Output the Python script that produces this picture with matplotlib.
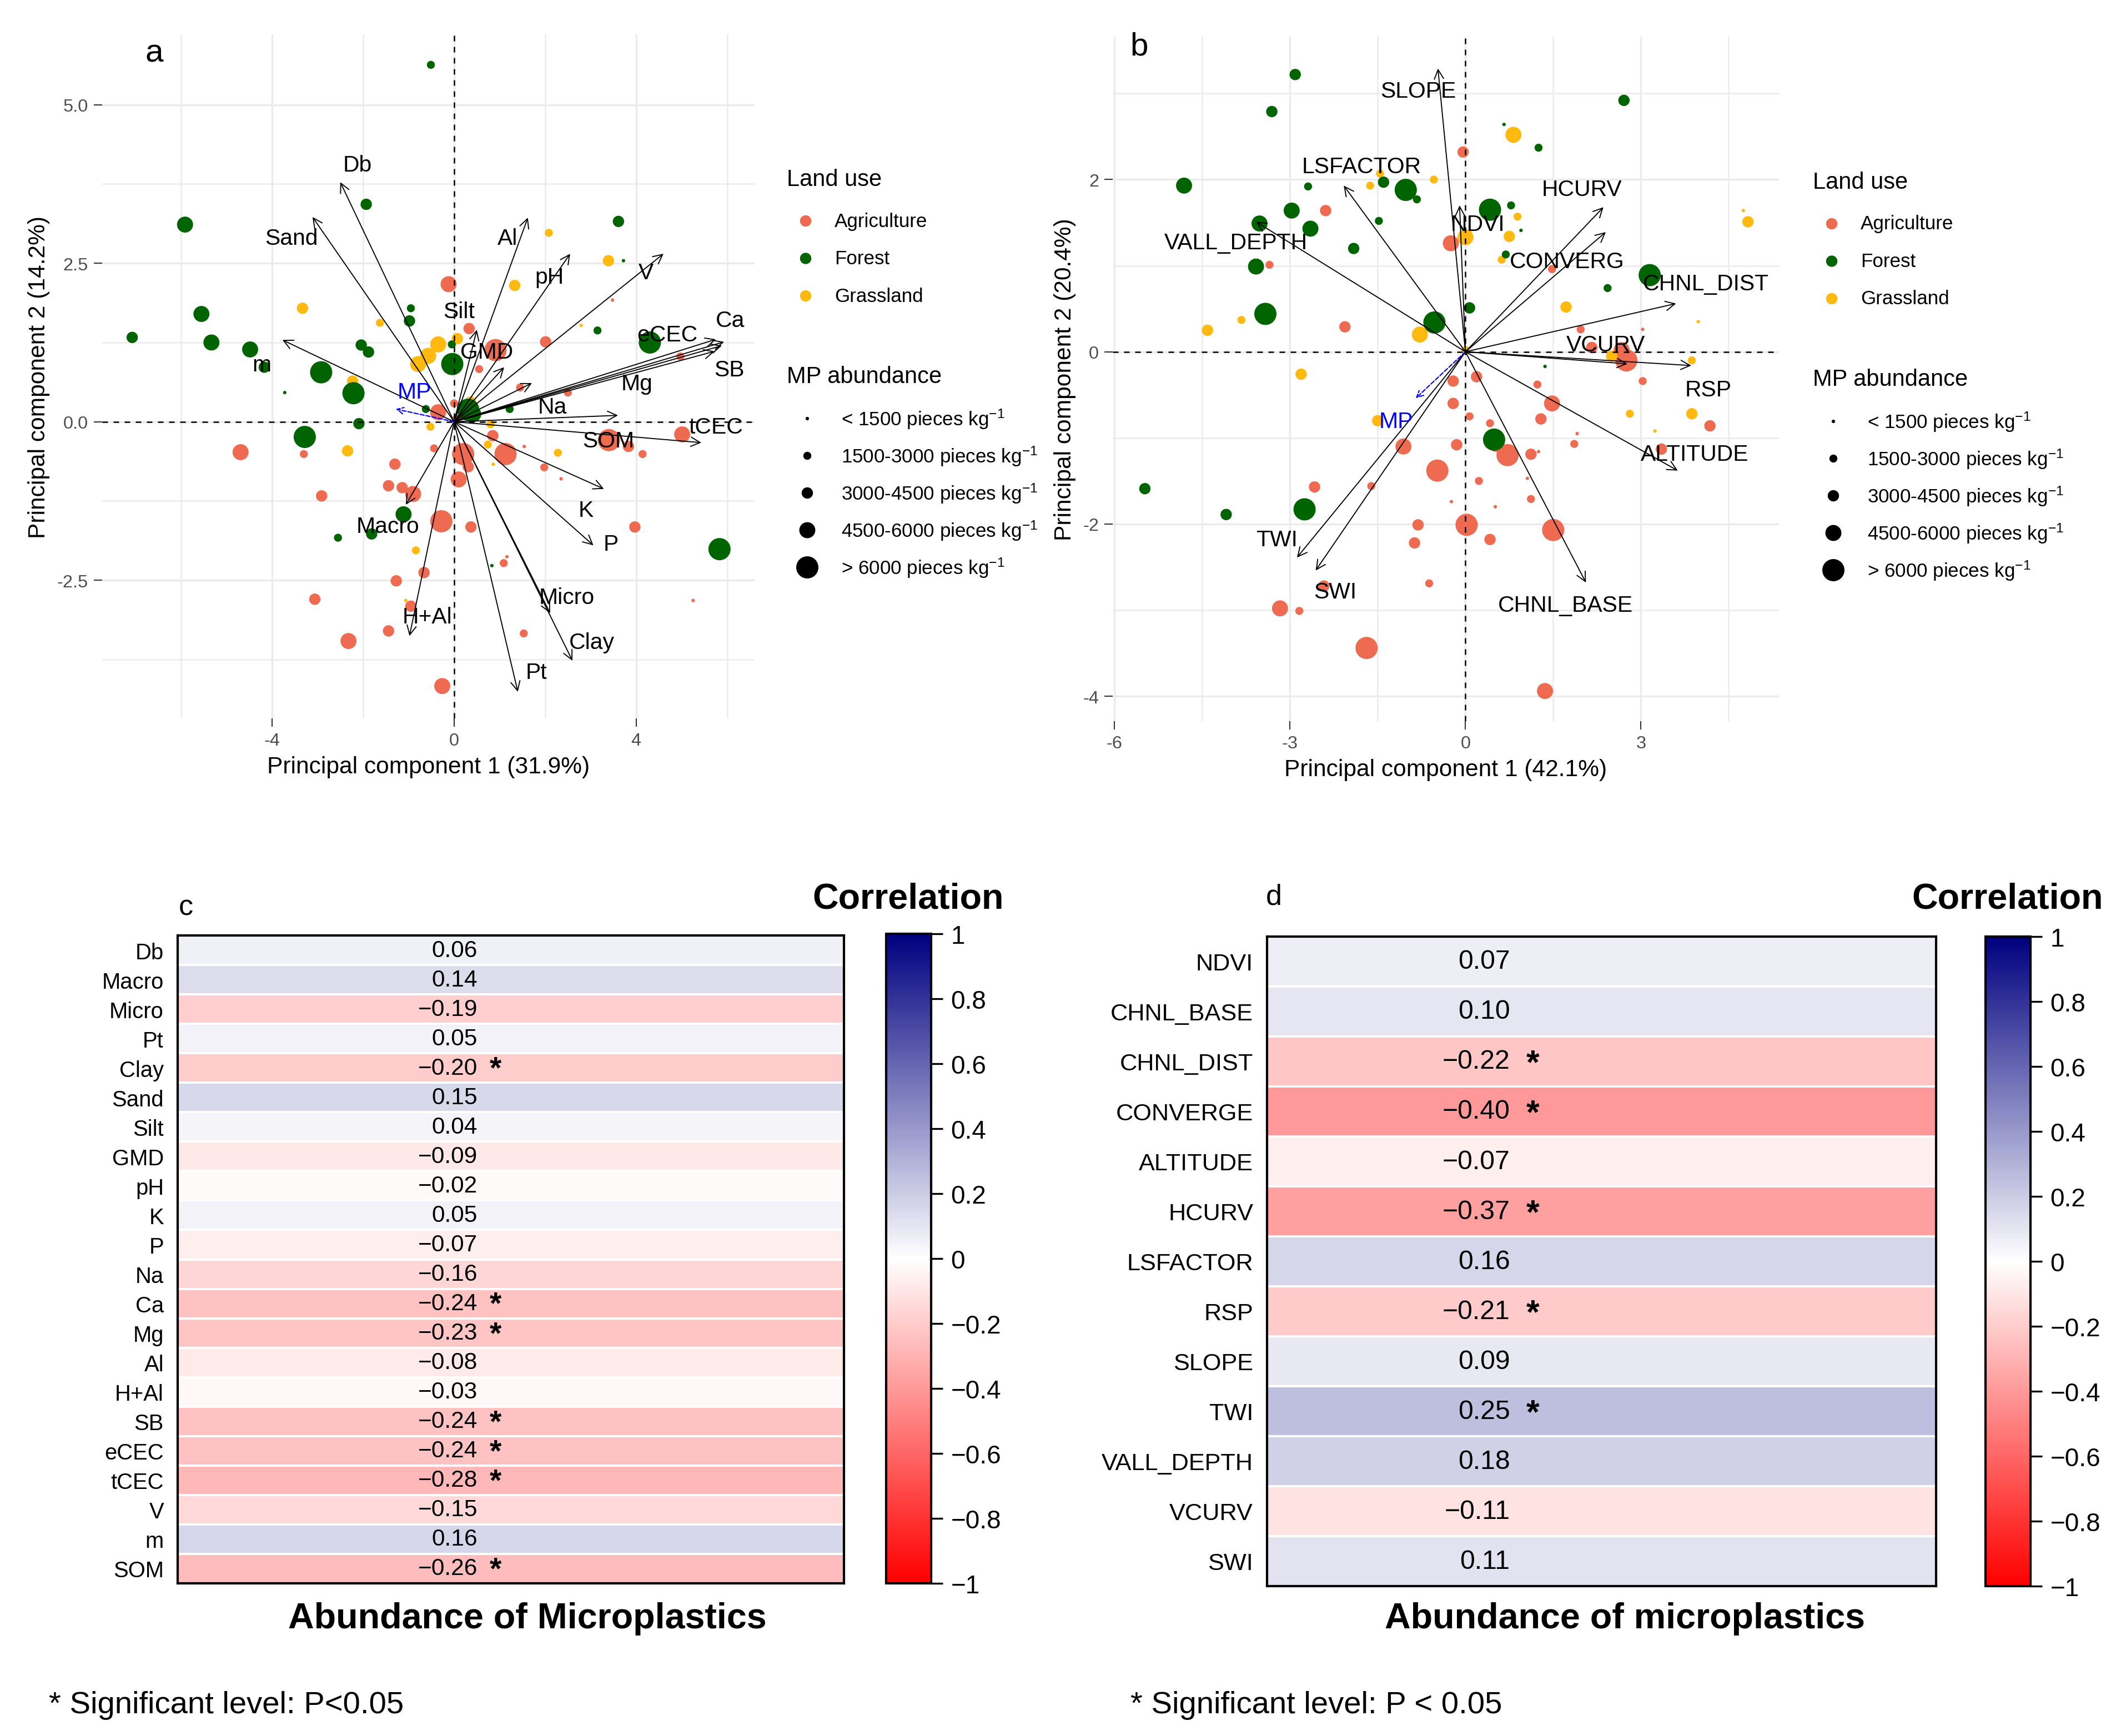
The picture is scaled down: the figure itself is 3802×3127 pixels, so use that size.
import numpy as np
import matplotlib
matplotlib.use('Agg')
import matplotlib.pyplot as plt
from matplotlib.colors import LinearSegmentedColormap, Normalize
import matplotlib.colorbar as mcolorbar

plt.rcParams['font.family'] = ['Liberation Sans', 'DejaVu Sans']
plt.rcParams['axes.unicode_minus'] = False
plt.rcParams['mathtext.default'] = 'regular'

W, H, DPI = 3802, 3128, 300

# ---- panel a: PCA scores (soil) ----
# land use: A = Agriculture, F = Forest, G = Grassland ; mp = MP abundance class 1..5
a_x = [-0.51, -5.91, -1.93, 3.61, -7.07, -5.55, -5.33, -4.48, -4.17, -2.92, -2.21, -3.28, -2.09, -2.04,
       -1.88, -0.95, -0.98, -0.05, -0.04, 0.31, 0.42, -0.62, 1.22, 3.15, 4.30, 5.83, -1.11, -1.81, -2.55,
       -3.72, 3.72, 0.83,
       2.08, 3.39, 1.33, -3.33, -1.63, -0.35, -0.57, -0.79, 0.07, -2.23, -2.34, -0.52, 0.80, 0.74, 2.28,
       -0.84, 2.79, -1.06, 0.86, 0.36,
       -0.12, 0.33, 0.91, 0.55, 2.01, 1.45, 2.50, 4.97, 3.48, -4.69, -3.30, -0.35, 0.00, 0.20, 0.31, 1.13,
       0.85, -1.30, -0.44, 0.10, -1.44, -1.14, -0.90, -0.28, 0.37, -2.91, -0.66, -1.27, -3.06, -0.95, -1.44,
       -2.32, -0.26, 1.53, 1.09, 1.98, 3.40, 3.83, 4.14, 5.01, 3.97, 2.35, 1.54, 1.16, 5.25, 0.05]
a_y = [5.63, 3.11, 3.43, 3.16, 1.33, 1.70, 1.25, 1.14, 0.86, 0.78, 0.45, -0.24, -0.03, 1.21,
       1.10, 1.79, 1.59, 1.22, 0.91, 0.19, 0.12, 0.20, 0.20, 1.44, 1.25, -2.01, -1.46, -1.77, -1.83,
       0.46, 2.54, -2.27,
       2.98, 2.54, 2.15, 1.79, 1.56, 1.22, 1.04, 0.91, 1.31, 0.64, -0.46, -0.08, -0.04, -0.36, -0.49,
       -2.03, 1.52, -2.82, -0.67, 0.31,
       2.17, 1.47, 1.13, 0.83, 1.26, 0.54, 0.46, 1.03, 1.92, -0.48, -0.51, 0.15, 0.29, -0.51, -0.71, -0.51,
       -0.22, -0.67, -0.42, -0.91, -1.01, -1.04, -1.14, -1.57, -1.66, -1.17, -2.38, -2.51, -2.80, -2.91, -3.30,
       -3.46, -4.17, -3.34, -2.23, -0.72, -0.29, -0.39, -0.51, -0.20, -1.66, -0.90, -0.39, -2.13, -2.82, 0.05]
a_use = ['F'] * 32 + ['G'] * 20 + ['A'] * 46
a_mp = [2, 4, 3, 3, 3, 4, 4, 4, 3, 5, 5, 5, 3, 3, 3, 2, 3, 2, 5, 5, 4, 2, 2, 2, 5, 5, 4, 3, 2, 1, 1, 1,
        2, 3, 3, 3, 2, 4, 4, 4, 3, 3, 3, 2, 2, 2, 2, 2, 1, 1, 1, 3,
        4, 3, 5, 2, 3, 2, 2, 2, 1, 4, 2, 4, 2, 5, 3, 5, 3, 3, 2, 4, 3, 3, 4, 5, 3, 3, 3, 3, 3, 3, 3,
        4, 4, 2, 2, 2, 5, 3, 2, 4, 3, 1, 1, 1, 1, 2]

a_vars = ['Db', 'Sand', 'm', 'Al', 'pH', 'V', 'Ca', 'SB', 'eCEC', 'Mg', 'tCEC', 'Na', 'SOM', 'K', 'P',
          'Micro', 'Clay', 'Pt', 'H+Al', 'Macro', 'GMD', 'Silt']
a_vx = [-2.50, -3.11, -3.77, 1.62, 2.55, 4.60, 5.93, 5.88, 5.75, 5.72, 5.43, 3.60, 1.71, 3.29, 3.06,
        2.11, 2.60, 1.40, -0.98, -1.06, 1.10, 0.50]
a_vy = [3.78, 3.23, 1.29, 3.22, 2.65, 2.65, 1.26, 1.20, 1.30, 1.11, -0.33, 0.10, 0.61, -1.06, -1.95,
        -3.02, -3.77, -4.26, -3.38, -1.31, 0.86, 1.45]
a_lx = [-2.12, -3.57, -4.23, 1.18, 2.09, 4.21, 6.07, 6.04, 4.68, 4.02, 5.75, 2.16, 3.39, 2.90, 3.45,
        2.47, 3.02, 1.81, -0.59, -1.46, 0.72, 0.11]
a_ly = [4.05, 2.90, 0.90, 2.90, 2.28, 2.35, 1.60, 0.82, 1.37, 0.60, -0.08, 0.23, -0.30, -1.40, -1.93,
        -2.77, -3.48, -3.95, -3.08, -1.65, 1.10, 1.74]
a_mp_vec = (-1.28, 0.20)
a_mp_lab = (-0.87, 0.47)

# ---- panel b: PCA scores (terrain) ----
b_x = [-2.91, -3.31, 2.71, 1.25, -4.81, -2.69, -2.97, -3.52, -2.65, -3.58, -3.42, -1.91, -1.48, -1.40,
       -1.02, -0.83, 0.42, 0.78, 0.69, 0.07, -0.53, 3.15, 2.43, 0.49, -2.75, -4.09, -5.48, 0.66, 0.95, 1.36,
       0.82, -0.54, -1.63, -1.46, 0.89, 0.75, 0.00, 0.62, 1.72, -0.78, 0.00, -4.41, -3.83, -2.81, -1.50,
       2.50, 2.81, 3.87, 3.87, 4.83, 4.75, 3.98, 3.24,
       -0.04, -2.39, -0.25, -3.35, -2.06, 1.48, 1.97, 2.16, 2.75, 2.67, 3.03, 4.18, 3.35, 1.86, 1.48, 1.29,
       1.23, 1.12, 1.12, 0.53, 0.72, 0.42, 0.19, -0.21, -0.21, 0.07, -0.15, -1.06, -0.48, 0.23, -2.58, -1.61,
       1.50, 0.02, 0.42, -0.81, -0.87, -0.62, -2.42, -3.17, -2.84, -1.69, 1.36, 3.03, 1.91, 1.25, 1.06,
       -0.24, 0.51]
b_y = [3.22, 2.79, 2.92, 2.37, 1.93, 1.92, 1.64, 1.49, 1.43, 0.99, 0.44, 1.20, 1.52, 1.97,
       1.88, 1.77, 1.65, 1.70, 1.13, 0.51, 0.34, 0.89, 0.74, -1.02, -1.83, -1.89, -1.59, 2.64, 1.41, -0.17,
       2.52, 2.00, 1.93, 2.07, 1.57, 1.34, 1.33, 1.07, 0.52, 0.20, 0.02, 0.25, 0.37, -0.26, -0.80,
       -0.05, -0.72, -0.72, -0.10, 1.51, 1.64, 0.35, -0.92,
       2.32, 1.64, 1.26, 1.01, 0.29, 0.96, 0.26, 0.05, -0.10, 0.02, -0.34, -0.86, -1.13, -1.07, -0.60, -0.78,
       -0.38, -1.19, -1.71, -1.07, -1.20, -0.83, -0.29, -0.34, -0.60, -0.75, -1.08, -1.10, -1.38, -1.50, -1.57,
       -1.56, -2.07, -2.01, -2.18, -2.01, -2.22, -2.69, -2.72, -2.98, -3.01, -3.44, -3.94, 0.26, -0.95, -1.16,
       -1.47, -1.74, -1.80]
b_use = ['F'] * 30 + ['G'] * 23 + ['A'] * 49
b_mp = [3, 3, 3, 2, 4, 2, 4, 4, 4, 4, 5, 3, 2, 3, 5, 2, 5, 2, 2, 3, 5, 5, 2, 5, 5, 3, 3, 1, 1, 1,
        4, 2, 2, 2, 2, 3, 4, 2, 3, 4, 2, 3, 2, 3, 3, 3, 2, 3, 2, 3, 1, 1, 1,
        3, 3, 4, 2, 3, 2, 2, 3, 5, 4, 2, 3, 3, 2, 4, 3, 2, 3, 2, 4, 5, 2, 3, 3, 3, 2, 3, 4, 5, 2,
        3, 2, 5, 5, 3, 3, 3, 2, 3, 4, 2, 5, 4, 1, 1, 1, 1, 1, 1]

b_vars = ['SLOPE', 'LSFACTOR', 'VALL_DEPTH', 'HCURV', 'NDVI', 'CONVERG', 'CHNL_DIST', 'VCURV', 'RSP',
          'ALTITUDE', 'CHNL_BASE', 'SWI', 'TWI']
b_vx = [-0.47, -2.08, -3.58, 2.36, -0.10, 2.40, 3.60, 2.77, 3.86, 3.63, 2.06, -2.56, -2.88]
b_vy = [3.29, 1.93, 1.51, 1.68, 1.70, 1.39, 0.56, -0.14, -0.16, -1.38, -2.68, -2.54, -2.39]
b_lx = [-0.81, -1.78, -3.92, 1.99, 0.21, 1.74, 4.11, 2.40, 4.15, 3.92, 1.71, -2.23, -3.22]
b_ly = [3.03, 2.15, 1.27, 1.89, 1.48, 1.05, 0.79, 0.08, -0.44, -1.19, -2.94, -2.79, -2.18]
b_mp_vec = (-0.85, -0.54)
b_mp_lab = (-1.19, -0.81)

# ---- panel c / d: correlations with MP abundance ----
c_vars = ['Db', 'Macro', 'Micro', 'Pt', 'Clay', 'Sand', 'Silt', 'GMD', 'pH', 'K', 'P', 'Na', 'Ca', 'Mg',
          'Al', 'H+Al', 'SB', 'eCEC', 'tCEC', 'V', 'm', 'SOM']
c_r = [0.06, 0.14, -0.19, 0.05, -0.20, 0.15, 0.04, -0.09, -0.02, 0.05, -0.07, -0.16, -0.24, -0.23,
       -0.08, -0.03, -0.24, -0.24, -0.28, -0.15, 0.16, -0.26]
c_sig = [0, 0, 0, 0, 1, 0, 0, 0, 0, 0, 0, 0, 1, 1, 0, 0, 1, 1, 1, 0, 0, 1]

d_vars = ['NDVI', 'CHNL_BASE', 'CHNL_DIST', 'CONVERGE', 'ALTITUDE', 'HCURV', 'LSFACTOR', 'RSP', 'SLOPE',
          'TWI', 'VALL_DEPTH', 'VCURV', 'SWI']
d_r = [0.07, 0.10, -0.22, -0.40, -0.07, -0.37, 0.16, -0.21, 0.09, 0.25, 0.18, -0.11, 0.11]
d_sig = [0, 0, 1, 1, 0, 1, 0, 1, 0, 1, 0, 0, 0]

use_names = ['Agriculture', 'Forest', 'Grassland']
use_colors = {'A': '#EE6A50', 'F': '#006400', 'G': '#FFB90F'}
mp_labels = ['< 1500 pieces kg$^{-1}$', '1500-3000 pieces kg$^{-1}$', '3000-4500 pieces kg$^{-1}$',
             '4500-6000 pieces kg$^{-1}$', '> 6000 pieces kg$^{-1}$']
mp_sizes = {1: 2.2, 2: 12, 3: 24, 4: 48, 5: 92}

GRID = '#EBEBEB'


def px_rect(x0, y0, x1, y1):
    return [x0 / W, 1 - y1 / H, (x1 - x0) / W, (y1 - y0) / H]


def draw_pca(ax, xs, ys, uses, mps, names, vx, vy, lx, ly, mpv, mpl,
             xlim, ylim, xmaj, xmin, ymaj, ymin, xfmt, yfmt, xlabel, ylabel):
    ax.set_xlim(*xlim)
    ax.set_ylim(*ylim)
    ax.set_xticks(xmaj)
    ax.set_xticks(xmin, minor=True)
    ax.set_yticks(ymaj)
    ax.set_yticks(ymin, minor=True)
    ax.set_xticklabels([xfmt.format(v) for v in xmaj])
    ax.set_yticklabels([yfmt.format(v) for v in ymaj])
    ax.grid(True, which='major', color=GRID, lw=0.8, zorder=0)
    ax.grid(True, which='minor', color=GRID, lw=0.6, zorder=0)
    ax.set_axisbelow(True)
    for s in ax.spines.values():
        s.set_visible(False)
    ax.tick_params(which='major', length=3.5, width=0.5, color='#333333', labelcolor='#4D4D4D',
                   labelsize=7.8, pad=2.5)
    ax.tick_params(which='minor', length=0)
    ax.set_xlabel(xlabel, fontsize=10.2, labelpad=3)
    ax.set_ylabel(ylabel, fontsize=10.2, labelpad=3)

    xs = np.array(xs)
    ys = np.array(ys)
    uses = np.array(uses)
    sz = np.array([mp_sizes[m] for m in mps])
    for code in ['A', 'G', 'F']:
        m = uses == code
        ax.scatter(xs[m], ys[m], s=sz[m], color=use_colors[code], edgecolors='none', zorder=2)

    ax.axhline(0, color='black', ls=(0, (4, 4)), lw=0.6, zorder=3)
    ax.axvline(0, color='black', ls=(0, (4, 4)), lw=0.6, zorder=3)

    for n, x, y, tx, ty in zip(names, vx, vy, lx, ly):
        ax.annotate('', xy=(x, y), xytext=(0, 0),
                    arrowprops=dict(arrowstyle='->', color='black', lw=0.45,
                                    mutation_scale=10, shrinkA=0, shrinkB=0), zorder=4)
        ax.text(tx, ty, n, ha='center', va='center', fontsize=9.8, color='black', zorder=5)
    ax.annotate('', xy=mpv, xytext=(0, 0),
                arrowprops=dict(arrowstyle='->', color='blue', lw=0.5, ls='--',
                                mutation_scale=7, shrinkA=0, shrinkB=0), zorder=4)
    ax.text(mpl[0], mpl[1], 'MP', ha='center', va='center', fontsize=9.8, color='blue', zorder=5)


def draw_legend(lay, ox, oy):
    lay.text(ox, oy, 'Land use', ha='left', va='center', fontsize=10)
    for i, (nm, code) in enumerate(zip(use_names, ['A', 'F', 'G'])):
        yy = oy + 75 + 67.5 * i
        lay.scatter([ox + 34], [yy], s=24, color=use_colors[code], edgecolors='none')
        lay.text(ox + 86, yy, nm, ha='left', va='center', fontsize=8.4)
    lay.text(ox, oy + 355, 'MP abundance', ha='left', va='center', fontsize=10)
    for i, lab in enumerate(mp_labels):
        yy = oy + 431 + 67 * i
        lay.scatter([ox + 37], [yy], s=mp_sizes[i + 1], color='black', edgecolors='none')
        lay.text(ox + 98, yy, lab, ha='left', va='center', fontsize=8.4)


cmap = LinearSegmentedColormap.from_list('rwb', ['#FF0000', '#FFFFFF', '#00007F'])
norm = Normalize(-1, 1)


def fmt_r(v):
    return '{:.2f}'.format(v).replace('-', '\u2212')


def draw_heat(ax, cax, names, vals, sig, lab_size, val_size, val_x, star_x):
    n = len(names)
    arr = np.array(vals).reshape(n, 1)
    ax.pcolormesh(np.arange(2), np.arange(n + 1), arr, cmap=cmap, norm=norm,
                  edgecolors='white', linewidth=0.5)
    ax.set_xlim(0, 1)
    ax.set_ylim(n, 0)
    ax.set_xticks([])
    ax.set_yticks(np.arange(n) + 0.5)
    ax.set_yticklabels(names, fontsize=lab_size)
    ax.tick_params(axis='y', length=0, pad=6)
    for s in ax.spines.values():
        s.set_linewidth(1.0)
        s.set_color('black')
    tr = ax.get_yaxis_transform()
    for i, (v, sg) in enumerate(zip(vals, sig)):
        ax.text(val_x, i + 0.5, fmt_r(v), transform=tr, ha='right', va='center', fontsize=val_size)
        if sg:
            ax.text(star_x, i + 0.55, '*', transform=tr, ha='center', va='center',
                    fontsize=val_size + 3, fontweight='bold')

    cb = mcolorbar.ColorbarBase(cax, cmap=cmap, norm=norm, orientation='vertical')
    ticks = np.round(np.arange(-1, 1.01, 0.2), 1)
    cb.set_ticks(ticks)
    cb.set_ticklabels([('{:g}'.format(t) if t != 0 else '0').replace('-', '\u2212') for t in ticks])
    cb.outline.set_linewidth(1.0)
    cax.tick_params(length=5, width=0.8, labelsize=11, pad=3.5)


fig = plt.figure(figsize=(W / DPI, H / DPI), dpi=DPI)

ax_a = fig.add_axes(px_rect(184, 63, 1359, 1295))
draw_pca(ax_a, a_x, a_y, a_use, a_mp, a_vars, a_vx, a_vy, a_lx, a_ly, a_mp_vec, a_mp_lab,
         (-7.73, 6.60), (-4.68, 6.11), [-4, 0, 4], [-6, -2, 2, 6],
         [-2.5, 0, 2.5, 5.0], [-3.75, -1.25, 1.25, 3.75], '{:g}', '{:.1f}',
         'Principal component 1 (31.9%)', 'Principal component 2 (14.2%)')

ax_b = fig.add_axes(px_rect(2004, 67, 3204, 1300))
draw_pca(ax_b, b_x, b_y, b_use, b_mp, b_vars, b_vx, b_vy, b_lx, b_ly, b_mp_vec, b_mp_lab,
         (-6.03, 5.36), (-4.29, 3.66), [-6, -3, 0, 3], [-4.5, -1.5, 1.5, 4.5],
         [-4, -2, 0, 2], [-3, -1, 1, 3], '{:g}', '{:g}',
         'Principal component 1 (42.1%)', 'Principal component 2 (20.4%)')

ax_c = fig.add_axes(px_rect(320, 1686, 1520, 2853))
cax_c = fig.add_axes(px_rect(1596, 1683, 1677, 2853))
draw_heat(ax_c, cax_c, c_vars, c_r, c_sig, 9.6, 10.2, 0.45, 0.477)

ax_d = fig.add_axes(px_rect(2282, 1688, 3487, 2858))
cax_d = fig.add_axes(px_rect(3576, 1688, 3657, 2858))
draw_heat(ax_d, cax_d, d_vars, d_r, d_sig, 10.4, 11.6, 0.363, 0.397)

# overlay in pixel coordinates for legends and annotations
lay = fig.add_axes([0, 0, 1, 1], zorder=10)
lay.set_xlim(0, W)
lay.set_ylim(H, 0)
lay.axis('off')

draw_legend(lay, 1417, 324)
draw_legend(lay, 3265, 329)

lay.text(262, 97, 'a', ha='left', va='center', fontsize=14,
         bbox=dict(facecolor='white', edgecolor='none', pad=6))
lay.text(2035, 85, 'b', ha='left', va='center', fontsize=14,
         bbox=dict(facecolor='white', edgecolor='none', pad=6))
lay.text(322, 1635, 'c', ha='left', va='center', fontsize=12.5)
lay.text(2280, 1616, 'd', ha='left', va='center', fontsize=12.5)

lay.text(1636, 1620, 'Correlation', ha='center', va='center', fontsize=15.5, fontweight='bold')
lay.text(3616, 1620, 'Correlation', ha='center', va='center', fontsize=15.5, fontweight='bold')
lay.text(950, 2916, 'Abundance of Microplastics', ha='center', va='center', fontsize=15.5,
         fontweight='bold')
lay.text(2927, 2916, 'Abundance of microplastics', ha='center', va='center', fontsize=15.5,
         fontweight='bold')
lay.text(88, 3072, '* Significant level: P<0.05', ha='left', va='center', fontsize=13.5)
lay.text(2036, 3072, '* Significant level: P < 0.05', ha='left', va='center', fontsize=13.5)

fig.savefig('out.png', dpi=DPI)
plt.close(fig)
